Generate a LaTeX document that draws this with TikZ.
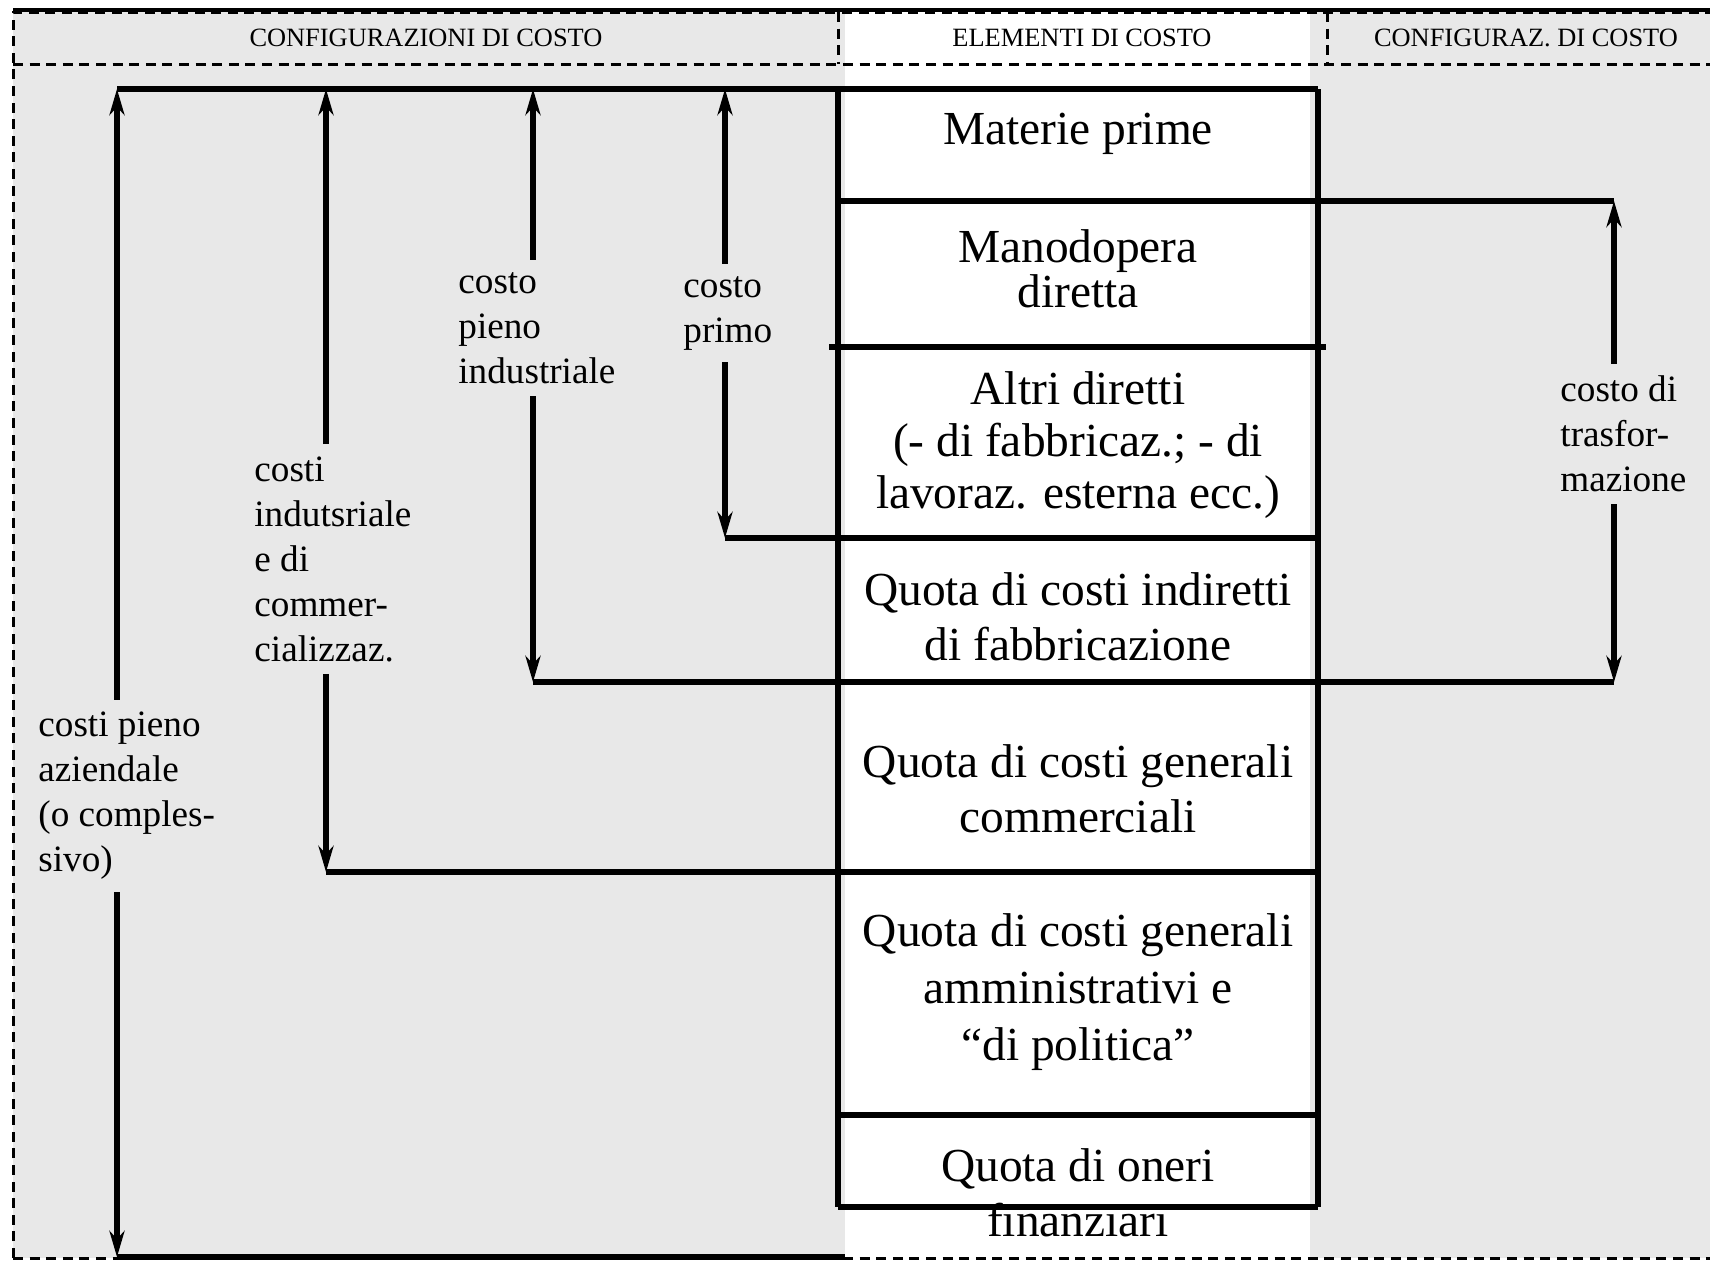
\documentclass[tikz,border=0pt]{standalone}
\usepackage{fontspec}
\setmainfont{Liberation Serif}
\usetikzlibrary{arrows.meta}
\definecolor{bgcol}{HTML}{E8E8E8}
\tikzset{
  frame/.style={line width=1.5pt,dash pattern=on 5pt off 3.3pt},
  rule/.style={line width=2.7pt},
  dim/.style={line width=2.7pt,-{Stealth[length=13pt,width=7.5pt,inset=4pt]}},
  elem/.style={align=center,inner sep=0pt,font=\fontsize{23.7}{27.5}\selectfont},
  lbl/.style={align=left,anchor=west,inner sep=6pt,font=\fontsize{18.6}{22.5}\selectfont},
  head/.style={inner sep=0pt,font=\fontsize{13.2}{15}\selectfont}
}
\begin{document}
\begin{tikzpicture}[x=0.5pt,y=-0.5pt]
  \useasboundingbox (0,0) rectangle (1710,1264);
  % fondo
  \fill[bgcol] (13,12) rectangle (1710,1258);
  \fill[white] (845,12) rectangle (1310,1258);
  % intestazione
  \draw[line width=2pt] (13,10) -- (1710,10);
  \draw[frame] (13,1258) -- (13,12) -- (1710,12);
  \draw[frame] (13,64) -- (1710,64);
  \draw[frame] (13,1258) -- (1710,1258);
  \draw[frame] (838,12) -- (838,64);
  \draw[frame] (1327,12) -- (1327,64);
  \node[head] (hconf) at (426,38) {CONFIGURAZIONI DI COSTO};
  \node[head] (helem) at (1082,38) {ELEMENTI DI COSTO};
  \node[head] (hconfb) at (1526,38) {CONFIGURAZ. DI COSTO};
  % elementi di costo
  \node[elem] (e1) at (1078,134) {Materie prime};
  \node[elem,font=\fontsize{23.7}{22.5}\selectfont] (e2) at (1078,269) {Manodopera\\diretta};
  \node[elem,font=\fontsize{23.7}{26}\selectfont] (e3) at (1078,445) {Altri diretti\\(- di fabbricaz.; - di\\lavoraz. esterna ecc.)};
  \node[elem] (e4) at (1078,617) {Quota di costi indiretti\\di fabbricazione};
  \node[elem] (e5) at (1078,789) {Quota di costi generali\\commerciali};
  \node[elem,font=\fontsize{23.7}{28.6}\selectfont] (e6) at (1078,992) {Quota di costi generali\\amministrativi e\\“di politica”};
  \node[elem] (e7) at (1078,1193) {Quota di oneri\\finanziari};
  % righe
  \foreach \y/\xa/\xb in {89/117/1318, 201/838/1614, 347/829/1326, 538/725/1318,
                          682/533/1614, 872/326/1318, 1115/838/1318, 1207/838/1318,
                          1257/117/845}
    \draw[rule] (\xa,\y) -- (\xb,\y);
  \draw[rule] (838,89) -- (838,1207);
  \draw[rule] (1318,89) -- (1318,1207);
  % estremi delle quote
  \coordinate (azt) at (117,89);   \coordinate (azb) at (117,1257);
  \coordinate (int) at (326,89);   \coordinate (inb) at (326,872);
  \coordinate (pit) at (533,89);   \coordinate (pib) at (533,682);
  \coordinate (prt) at (725,89);   \coordinate (prb) at (725,538);
  \coordinate (trt) at (1614,201); \coordinate (trb) at (1614,682);
  % configurazioni
  \node[lbl] (laz) at (26,796) {costi pieno\\aziendale\\(o comples-\\sivo)};
  \node[lbl] (lin) at (242,559) {costi\\indutsriale\\e di\\commer-\\cializzaz.};
  \node[lbl] (lpi) at (446,328) {costo\\pieno\\industriale};
  \node[lbl] (lpr) at (671,313) {costo\\primo};
  \node[lbl] (ltr) at (1548,434) {costo di\\trasfor-\\mazione};
  \draw[dim] (azt |- laz.north) -- (azt);
  \draw[dim] (azb |- laz.south) -- (azb);
  \draw[dim] (int |- lin.north) -- (int);
  \draw[dim] (inb |- lin.south) -- (inb);
  \draw[dim] (pit |- lpi.north) -- (pit);
  \draw[dim] (pib |- lpi.south) -- (pib);
  \draw[dim] (prt |- lpr.north) -- (prt);
  \draw[dim] (prb |- lpr.south) -- (prb);
  \draw[dim] (trt |- ltr.north) -- (trt);
  \draw[dim] (trb |- ltr.south) -- (trb);
\end{tikzpicture}
\end{document}
